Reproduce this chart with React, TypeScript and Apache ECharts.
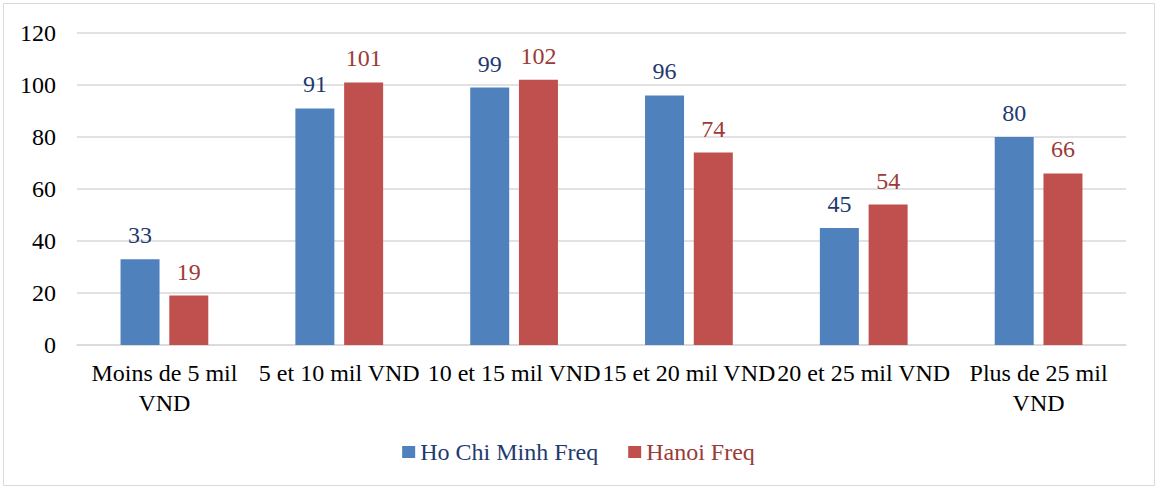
import React, { useEffect, useRef } from "react";
import * as echarts from "echarts";

const categories = [
  "Moins de 5 mil VND",
  "5 et 10 mil VND",
  "10 et 15 mil VND",
  "15 et 20 mil VND",
  "20 et 25 mil VND",
  "Plus de 25 mil VND",
];
const hcmValues = [33, 91, 99, 96, 45, 80];
const hanoiValues = [19, 101, 102, 74, 54, 66];
const seriesNames = ["Ho Chi Minh Freq", "Hanoi Freq"];

const FONT = "Liberation Serif";

export default function App() {
  const ref = useRef<HTMLDivElement>(null);
  useEffect(() => {
    if (!ref.current) return;
    const chart = echarts.init(ref.current, null, { renderer: "svg" });
    chart.setOption({
      animation: false,
      backgroundColor: "#ffffff",
      textStyle: { fontFamily: FONT },
      graphic: [
        {
          type: "rect",
          shape: { x: 3.5, y: 3.5, width: 1151, height: 482 },
          style: { fill: "none", stroke: "#D9D9D9", lineWidth: 1 },
          silent: true,
        },
      ],
      grid: { left: 77, right: 31, top: 33, bottom: 144, containLabel: false },
      legend: {
        bottom: 20,
        left: "center",
        itemWidth: 13,
        itemHeight: 12,
        itemGap: 30,
        icon: "rect",
        textStyle: { fontFamily: FONT, fontSize: 24 },
        data: [
          { name: seriesNames[0], textStyle: { color: "#1F3A6E" } },
          { name: seriesNames[1], textStyle: { color: "#9B3B38" } },
        ],
      },
      xAxis: {
        type: "category",
        data: categories,
        axisLine: { lineStyle: { color: "#D9D9D9", width: 1.5 } },
        axisTick: { show: false },
        axisLabel: {
          interval: 0,
          color: "#000",
          fontFamily: FONT,
          fontSize: 24,
          lineHeight: 30,
          margin: 13,
          formatter: (v: string) =>
            v.length > 16 ? v.replace(/ VND$/, "\nVND") : v,
        },
      },
      yAxis: {
        type: "value",
        min: 0,
        max: 120,
        interval: 20,
        axisLine: { show: false },
        axisTick: { show: false },
        splitLine: { lineStyle: { color: "#D9D9D9", width: 1.5 } },
        axisLabel: { color: "#000", fontFamily: FONT, fontSize: 24, margin: 21 },
      },
      series: [
        {
          name: seriesNames[0],
          type: "bar",
          data: hcmValues,
          barWidth: 39,
          barGap: "25%",
          itemStyle: { color: "#4F81BD" },
          label: {
            show: true,
            position: "top",
            distance: 12,
            color: "#1F3A6E",
            fontFamily: FONT,
            fontSize: 24,
          },
        },
        {
          name: seriesNames[1],
          type: "bar",
          data: hanoiValues,
          barWidth: 39,
          itemStyle: { color: "#C0504D" },
          label: {
            show: true,
            position: "top",
            distance: 12,
            color: "#9B3B38",
            fontFamily: FONT,
            fontSize: 24,
          },
        },
      ],
    });
    return () => chart.dispose();
  }, []);
  return (
    <div
      ref={ref}
      style={{ position: "fixed", left: 0, top: 0, width: 1157, height: 489 }}
    />
  );
}
